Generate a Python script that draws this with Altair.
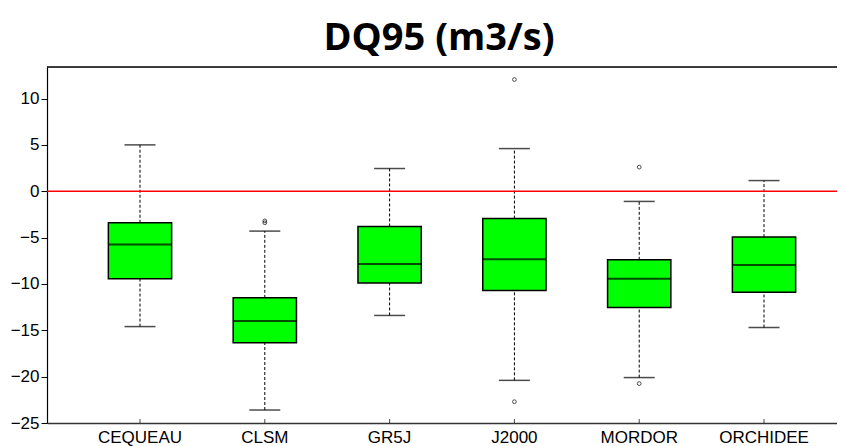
import altair as alt
import pandas as pd

models = ["CEQUEAU", "CLSM", "GR5J", "J2000", "MORDOR", "ORCHIDEE"]
whisker_low = [-14.6, -23.6, -13.4, -20.4, -20.1, -14.7]
q1 = [-9.45, -16.35, -9.9, -10.7, -12.55, -10.9]
median = [-5.75, -14.0, -7.85, -7.35, -9.45, -7.95]
q3 = [-3.4, -11.5, -3.8, -2.95, -7.4, -4.95]
whisker_high = [5.0, -4.3, 2.45, 4.6, -1.1, 1.15]

outlier_model = ["CLSM", "CLSM", "J2000", "J2000", "MORDOR", "MORDOR"]
outlier_value = [-3.2, -3.4, 12.05, -22.7, 2.6, -20.75]

y_ticks = [10, 5, 0, -5, -10, -15, -20, -25]
y_min, y_max = -25, 13.4
ref_value = 0

stats = pd.DataFrame({
    "model": models, "lo": whisker_low, "q1": q1, "med": median,
    "q3": q3, "hi": whisker_high,
})
outl = pd.DataFrame({"model": outlier_model, "value": outlier_value})
refdf = pd.DataFrame({"v": [ref_value]})
framedf = pd.DataFrame({"v": [y_max]})

xscale = alt.Scale(domain=models, paddingInner=0, paddingOuter=0.165, align=0.743)
yscale = alt.Scale(domain=[y_min, y_max], nice=False, zero=False)

x_enc = alt.X("model:N", scale=xscale, sort=models,
              axis=alt.Axis(title=None, labelAngle=0, domain=True, domainColor="#333333",
                            domainWidth=1.5, ticks=False,
                            labelFont="Liberation Sans", labelFontSize=17,
                            labelColor="black", labelPadding=6))
y_axis = alt.Axis(title=None, values=y_ticks, grid=False, domainColor="black",
                  domainWidth=1.2, tickColor="black", tickSize=6,
                  labelFont="Liberation Sans", labelFontSize=17,
                  labelColor="black", labelPadding=2)

base = alt.Chart(stats)

whisk_up = base.mark_rule(color="black", strokeDash=[3, 2], strokeWidth=1).encode(
    x=x_enc, y=alt.Y("q3:Q", scale=yscale, axis=y_axis), y2="hi:Q")
whisk_dn = base.mark_rule(color="black", strokeDash=[3, 2], strokeWidth=1).encode(
    x=x_enc, y=alt.Y("lo:Q", scale=yscale), y2="q1:Q")
cap_hi = base.mark_tick(color="black", size=31, thickness=1.5, orient="horizontal").encode(
    x=x_enc, y=alt.Y("hi:Q", scale=yscale))
cap_lo = base.mark_tick(color="black", size=31, thickness=1.5, orient="horizontal").encode(
    x=x_enc, y=alt.Y("lo:Q", scale=yscale))
box = base.mark_bar(color="#00FF00", stroke="black", strokeWidth=1.5,
                    width=alt.RelativeBandSize(0.507)).encode(
    x=x_enc, y=alt.Y("q1:Q", scale=yscale), y2="q3:Q")
med = base.mark_tick(color="black", size=63, thickness=2, orient="horizontal").encode(
    x=x_enc, y=alt.Y("med:Q", scale=yscale))
xticks = base.mark_tick(color="black", size=4, thickness=1, orient="vertical",
                        yOffset=-2).encode(x=x_enc, y=alt.datum(y_min))
ref = alt.Chart(refdf).mark_rule(color="#FF0000", strokeWidth=1.5).encode(
    y=alt.Y("v:Q", scale=yscale))
top = alt.Chart(framedf).mark_rule(color="black", strokeWidth=1.5).encode(
    y=alt.Y("v:Q", scale=yscale))
pts = alt.Chart(outl).mark_point(shape="circle", size=14, color="black",
                                 strokeWidth=1, filled=False).encode(
    x=x_enc, y=alt.Y("value:Q", scale=yscale))

chart = alt.layer(whisk_up, whisk_dn, cap_hi, cap_lo, box, med, ref, top, pts, xticks).properties(
    width=790, height=356,
    title=alt.TitleParams("DQ95 (m3/s)", font="Open Sans", fontSize=38, fontWeight="bold",
                          color="black", anchor="middle", dx=-3, offset=8),
    autosize=alt.AutoSizeParams(type="none"),
    padding={"left": 39, "top": 59, "right": 0, "bottom": 24},
).configure_view(stroke="transparent", strokeWidth=0).configure(background="white")

chart.save("out.html", embed_options={"renderer": "svg", "actions": False})
